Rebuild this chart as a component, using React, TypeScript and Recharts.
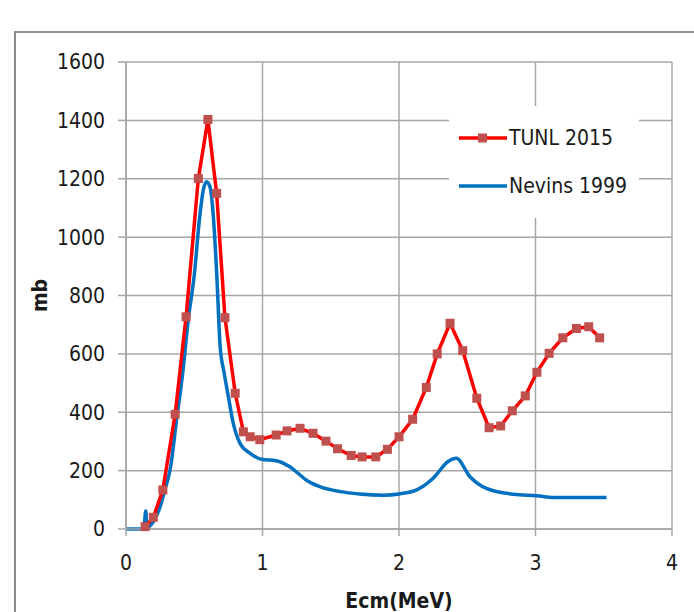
import React from "react";
import { LineChart, Line, XAxis, YAxis, CartesianGrid, Legend, Label } from "recharts";

// TUNL 2015 measurement (MeV, mb)
const tunlEnergy = [
  0.14, 0.2, 0.27, 0.36, 0.44, 0.53, 0.6, 0.664, 0.725, 0.8, 0.86, 0.91, 0.98, 1.1, 1.18,
  1.275, 1.37, 1.465, 1.55, 1.65, 1.73, 1.83, 1.915, 2.0, 2.1, 2.2, 2.28, 2.374, 2.467,
  2.57, 2.66, 2.745, 2.83, 2.925, 3.01, 3.1, 3.2, 3.3, 3.39, 3.47,
];
const tunlSigma = [
  8, 40, 134, 393, 727, 1201, 1403, 1150, 724, 465, 333, 316, 306, 322, 336, 345, 328, 301,
  275, 252, 247, 247, 273, 316, 376, 485, 600, 705, 611, 448, 347, 353, 405, 456, 537, 602,
  655, 687, 693, 655,
];

// Nevins 1999 evaluation
const nevinsEnergy = [
  0, 0.13, 0.145, 0.152, 0.2, 0.25, 0.285, 0.327, 0.37, 0.415, 0.456, 0.5, 0.54, 0.566, 0.59,
  0.615, 0.64, 0.664, 0.69, 0.72, 0.75, 0.786, 0.835, 0.91, 1.0, 1.1, 1.2, 1.275, 1.32, 1.42,
  1.57, 1.71, 1.885, 2.0, 2.13, 2.25, 2.36, 2.42, 2.52, 2.64, 2.84, 3.01, 3.13, 3.33, 3.52,
];
const nevinsSigma = [
  0, 0, 62, 5, 25, 76, 134, 213, 373, 533, 716, 870, 1070, 1161, 1190, 1173, 1070, 880, 624,
  533, 453, 362, 294, 259, 238, 234, 213, 185, 168, 145, 128, 120, 116, 120, 134, 174, 231,
  242, 179, 139, 119, 114, 108, 108, 108,
];

const xTicks = [0, 1, 2, 3, 4];
const yTicks = [0, 200, 400, 600, 800, 1000, 1200, 1400, 1600];

const tunl = tunlEnergy.map((x, i) => ({ x, y: tunlSigma[i] }));
const nevins = nevinsEnergy.map((x, i) => ({ x, y: nevinsSigma[i] }));

const RED = "#ff0000";
const MARK = "#c0504d";
const BLUE = "#0070c0";
const GRID = "#a6a6a6";
const FONT = "'Liberation Sans Narrow', 'DejaVu Sans Condensed', sans-serif";

function SquareDot(props: any) {
  const { cx, cy } = props;
  if (cx == null || cy == null) return null;
  return <rect x={cx - 4.5} y={cy - 4.5} width={9} height={9} fill={MARK} />;
}

function ChartLegend() {
  const row = (label: string, color: string, marker: boolean) => (
    <div style={{ display: "flex", alignItems: "center", height: 48 }}>
      <svg width={50} height={12}>
        <line x1={1} y1={6} x2={49} y2={6} stroke={color} strokeWidth={3.5} />
        {marker && <rect x={20} y={1.5} width={9} height={9} fill={MARK} />}
      </svg>
      <span style={{ fontFamily: FONT, fontSize: 21, color: "#1a1a1a", marginLeft: 1 }}>{label}</span>
    </div>
  );
  return (
    <div style={{ background: "#fff", padding: "8px 0 8px 9px", width: 181 }}>
      {row("TUNL 2015", RED, true)}
      {row("Nevins 1999", BLUE, false)}
    </div>
  );
}

export default function App() {
  return (
    <div style={{ position: "absolute", left: 0, top: 0, width: 694, height: 612, overflow: "hidden", background: "#fff" }}>
      <div
        style={{
          position: "absolute",
          left: 14,
          top: 31,
          width: 720,
          height: 640,
          border: "2px solid #8c8c8c",
          boxSizing: "border-box",
        }}
      />
      <LineChart
        width={694}
        height={612}
        style={{ position: "absolute", left: 0, top: 0 }}
        margin={{ top: 62, right: 22, bottom: 23, left: 0 }}
      >
        <CartesianGrid stroke={GRID} strokeWidth={1.5} />
        <XAxis
          type="number"
          dataKey="x"
          domain={[0, 4]}
          ticks={xTicks}
          height={60}
          axisLine={{ stroke: GRID, strokeWidth: 1.5 }}
          tickLine={{ stroke: GRID, strokeWidth: 1.5 }}
          tickSize={7}
          tickMargin={19}
          tick={{ fontFamily: FONT, fontSize: 21, fill: "#1a1a1a" }}
        >
          <Label
            value="Ecm(MeV)"
            position="bottom"
            offset={4}
            style={{ fontFamily: FONT, fontSize: 21, fontWeight: "bold", fill: "#1a1a1a" }}
          />
        </XAxis>
        <YAxis
          type="number"
          dataKey="y"
          domain={[0, 1600]}
          ticks={yTicks}
          width={126}
          axisLine={{ stroke: GRID, strokeWidth: 1.5 }}
          tickLine={{ stroke: GRID, strokeWidth: 1.5 }}
          tickSize={8}
          tickMargin={13}
          tick={{ fontFamily: FONT, fontSize: 21, fill: "#1a1a1a" }}
        >
          <Label
            content={(p: any) => {
              const vb = p.viewBox || {};
              const cx = 40;
              const cy = vb.y + vb.height / 2;
              return (
                <text
                  x={cx}
                  y={cy}
                  transform={`rotate(-90 ${cx} ${cy})`}
                  textAnchor="middle"
                  dominantBaseline="central"
                  style={{ fontFamily: FONT, fontSize: 21, fontWeight: "bold", fill: "#1a1a1a" }}
                >
                  mb
                </text>
              );
            }}
          />
        </YAxis>
        <Legend
          layout="vertical"
          align="center"
          verticalAlign="middle"
          content={<ChartLegend />}
          wrapperStyle={{ left: 449, top: 106, width: 190, height: 110 }}
        />
        <Line
          data={nevins}
          dataKey="y"
          name="Nevins 1999"
          type="monotone"
          stroke={BLUE}
          strokeWidth={3.5}
          dot={false}
          isAnimationActive={false}
        />
        <Line
          data={tunl}
          dataKey="y"
          name="TUNL 2015"
          type="linear"
          stroke={RED}
          strokeWidth={3.5}
          dot={<SquareDot />}
          isAnimationActive={false}
        />
      </LineChart>
    </div>
  );
}
